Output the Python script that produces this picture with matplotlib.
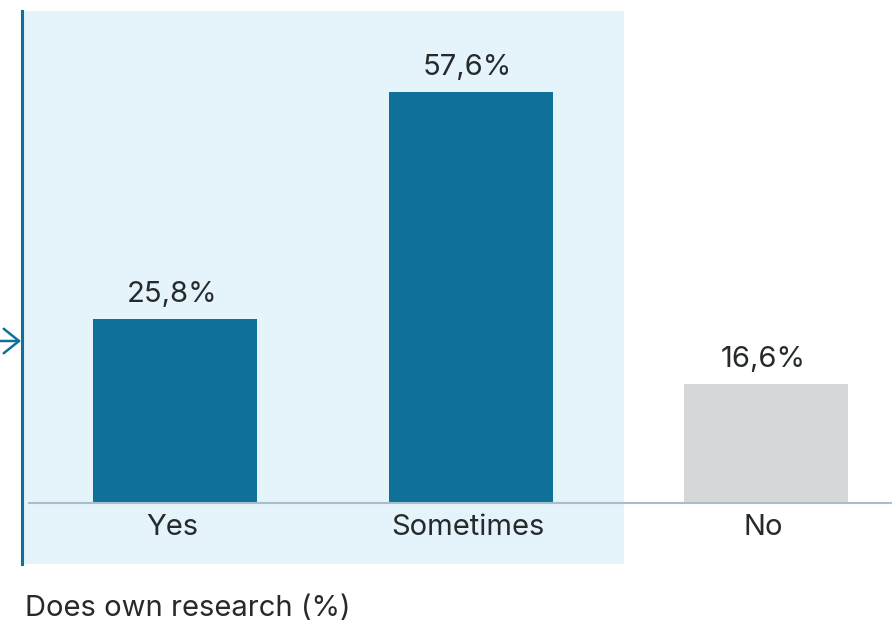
import matplotlib
matplotlib.use("Agg")
import matplotlib.pyplot as plt
from matplotlib.patches import Rectangle, FancyArrowPatch

plt.rcParams["font.family"] = ["Inter", "DejaVu Sans"]

categories = ["Yes", "Sometimes", "No"]
values = [25.8, 57.6, 16.6]
value_labels = ["25,8%", "57,6%", "16,6%"]
title = "Does own research (%)"

BLUE = "#0F7099"
GREY = "#D6D7D9"
PANEL = "#E5F3FB"
TEXT = "#262A2B"
BASE = "#A9BEC8"

W, H = 892, 626
fig = plt.figure(figsize=(W / 100, H / 100), dpi=100)

# highlight panel behind the first two bars
fig.patches.append(Rectangle((21 / W, 1 - 564 / H), (624 - 21) / W, (564 - 11) / H,
                             transform=fig.transFigure, facecolor=PANEL,
                             edgecolor="none", zorder=0))
fig.add_artist(plt.Line2D([21.5 / W, 21.5 / W], [1 - 564 / H, 1 - 11 / H],
                          color=BLUE, lw=2.2, zorder=1))
fig.add_artist(FancyArrowPatch((-2 / W, 1 - 341 / H), (21 / W, 1 - 341 / H),
                               transform=fig.transFigure,
                               arrowstyle="->,head_length=1.0,head_width=0.8",
                               color=BLUE, lw=1.8, mutation_scale=11, shrinkA=0,
                               shrinkB=0, zorder=1))

ax = fig.add_axes([0, 0, 1, 1])
ax.set_zorder(2)
ax.set_facecolor("none")
px_x = 295.5
px_y = 7.14
ax.set_xlim(-175 / px_x, (W - 175) / px_x)
ax.set_ylim(-(H - 503) / px_y, 503 / px_y)

colors = [BLUE, BLUE, GREY]
x = range(len(categories))
ax.bar(x, values, width=164 / px_x, color=colors, zorder=2)
ax.plot([(29 - 175) / px_x, (W - 175) / px_x], [0, 0], color=BASE, lw=1.5, zorder=3)

for i, (v, lab) in enumerate(zip(values, value_labels)):
    ax.text(i - 3 / px_x, v + 11 / px_y, lab, ha="center", va="bottom", fontsize=21, color=TEXT)
    ax.text(i - 3 / px_x, -11 / px_y, categories[i], ha="center", va="top", fontsize=21, color=TEXT)

ax.set_axis_off()
fig.text(25 / W, 1 - 608 / H, title, ha="left", va="center", fontsize=21, color=TEXT)

fig.savefig("out.png", dpi=100)
